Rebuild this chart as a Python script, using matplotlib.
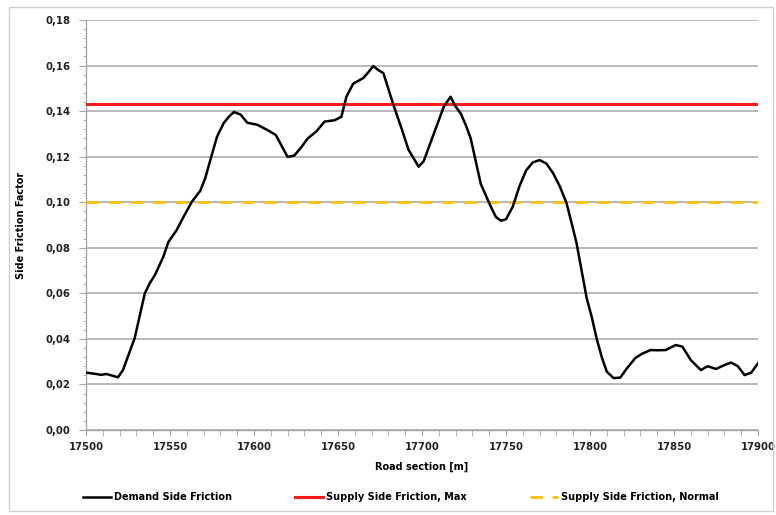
import numpy as np
import matplotlib
matplotlib.use("Agg")
import matplotlib.pyplot as plt
from matplotlib import ticker
from matplotlib.patches import Rectangle

# road section [m] and demand side friction
station = [17500, 17506, 17509, 17512, 17516, 17519, 17522, 17529, 17535, 17538,
           17541, 17546, 17549, 17554, 17558, 17563, 17568, 17571, 17574, 17578,
           17582, 17585, 17588, 17592, 17596, 17602, 17608, 17613, 17617, 17620,
           17624, 17628, 17632, 17637, 17642, 17648, 17652, 17655, 17659, 17665,
           17668, 17671, 17674, 17677, 17683, 17688, 17692, 17698, 17701, 17707,
           17713, 17717, 17720, 17723, 17726, 17729, 17732, 17735, 17741, 17744,
           17747, 17750, 17754, 17758, 17762, 17766, 17770, 17774, 17778, 17782,
           17786, 17789, 17792, 17795, 17798, 17801, 17804, 17807, 17810, 17814,
           17818, 17822, 17827, 17831, 17836, 17840, 17845, 17851, 17855, 17860,
           17866, 17870, 17875, 17880, 17884, 17888, 17892, 17896, 17900]
demand = [0.0252, 0.0246, 0.0242, 0.0246, 0.0238, 0.0231, 0.0263, 0.0404, 0.0600, 0.0645,
          0.0680, 0.0760, 0.0825, 0.0878, 0.0935, 0.1002, 0.1050, 0.1106, 0.1185, 0.1288,
          0.1348, 0.1375, 0.1396, 0.1385, 0.1349, 0.1340, 0.1317, 0.1295, 0.1240, 0.1199,
          0.1205, 0.1240, 0.1280, 0.1310, 0.1354, 0.1360, 0.1375, 0.1463, 0.1520, 0.1545,
          0.1570, 0.1598, 0.1580, 0.1567, 0.1427, 0.1320, 0.1230, 0.1156, 0.1180, 0.1300,
          0.1420, 0.1463, 0.1420, 0.1390, 0.1340, 0.1280, 0.1180, 0.1080, 0.0980, 0.0935,
          0.0919, 0.0925, 0.0980, 0.1070, 0.1140, 0.1175, 0.1185, 0.1170, 0.1128, 0.1070,
          0.0997, 0.0910, 0.0820, 0.0700, 0.0580, 0.0497, 0.0400, 0.0320, 0.0256, 0.0228,
          0.0230, 0.0271, 0.0316, 0.0335, 0.0351, 0.0350, 0.0351, 0.0373, 0.0366, 0.0307,
          0.0263, 0.0280, 0.0268, 0.0285, 0.0296, 0.0280, 0.0241, 0.0252, 0.0293]
supply_max = 0.143
supply_normal = 0.10

FONT = "DejaVu Sans"
fig = plt.figure(figsize=(7.76, 5.15), dpi=100)
ax = fig.add_axes([86/776, 1-430/515, 672/776, 410/515])

ax.plot(station, demand, color="black", linewidth=1.8, label="Demand Side Friction",
        solid_joinstyle="round", zorder=4)
ax.axhline(supply_max, color="#ff1a1a", linewidth=2.2, label="Supply Side Friction, Max", zorder=3)
ax.axhline(supply_normal, color="#ffc000", linewidth=2.0, dashes=(4.5, 3.5),
           label="Supply Side Friction, Normal", zorder=3)

ax.set_xlim(17500, 17900)
ax.set_ylim(0, 0.18)
ax.xaxis.set_major_locator(ticker.MultipleLocator(50))
ax.xaxis.set_minor_locator(ticker.MultipleLocator(10))
ax.yaxis.set_major_locator(ticker.MultipleLocator(0.02))
ax.yaxis.set_minor_locator(ticker.MultipleLocator(0.004))
ax.yaxis.set_major_formatter(ticker.FuncFormatter(lambda v, p: f"{v:.2f}".replace(".", ",")))
ax.grid(axis="y", which="major", color="#a6a6a6", linewidth=1.1, zorder=0)
ax.set_axisbelow(True)

for s in ["top", "right"]:
    ax.spines[s].set_visible(False)
for s in ["left", "bottom"]:
    ax.spines[s].set_color("#a6a6a6")
    ax.spines[s].set_linewidth(1.0)

ax.tick_params(axis="both", which="both", color="#a6a6a6", direction="out")
ax.tick_params(axis="y", which="major", length=5, pad=6)
ax.tick_params(axis="y", which="minor", length=2.5)
ax.tick_params(axis="x", which="both", length=4, pad=5)
for lab in ax.get_xticklabels() + ax.get_yticklabels():
    lab.set_fontsize(7.3)
    lab.set_fontweight("bold")
    lab.set_color("#222222")
    lab.set_family(FONT)

ax.set_xlabel("Road section [m]", fontsize=7, fontweight="bold", family=FONT, labelpad=7)
ax.set_ylabel("Side Friction Factor", fontsize=7, fontweight="bold", family=FONT, labelpad=14)

fig.legend(loc="center", bbox_to_anchor=(401/776, 1-497/515), ncol=3, frameon=False,
           prop={"size": 7, "weight": "bold", "family": FONT},
           handlelength=2.9, handletextpad=0.3, columnspacing=6.5)

fig.patches.append(Rectangle((9/776, 4/515), 764/776, 504/515, transform=fig.transFigure,
                             fill=False, edgecolor="#d0d0d0", linewidth=1.0))

fig.savefig("out.png", dpi=100)
